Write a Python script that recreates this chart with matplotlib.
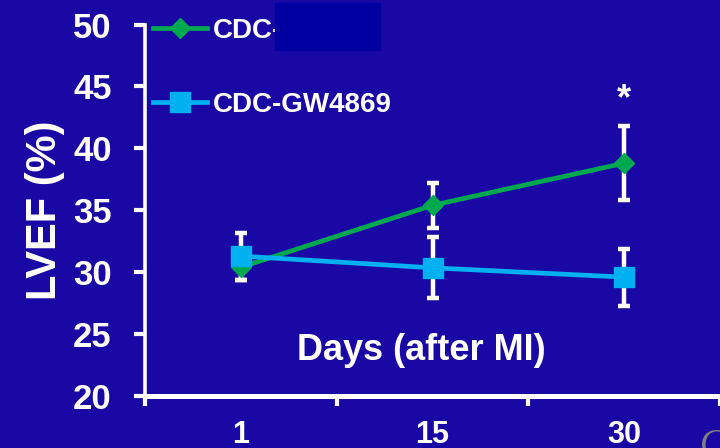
import matplotlib
matplotlib.use("Agg")
import matplotlib.pyplot as plt
import numpy as np

days = ["1", "15", "30"]
cdc_label = "CDC-"
cdc_mean = [30.4, 35.4, 38.8]
cdc_err = [1.0, 1.8, 3.0]
gw_label = "CDC-GW4869"
gw_mean = [31.3, 30.35, 29.6]
gw_err = [1.9, 2.45, 2.3]
yticks = [20, 25, 30, 35, 40, 45, 50]

bg = "#1a08a5"
green = "#00a850"
cyan = "#00b0f0"

plt.rcParams['font.family'] = ['Liberation Sans', 'DejaVu Sans']
plt.rcParams['font.weight'] = 'bold'

fig = plt.figure(figsize=(7.2, 4.48), dpi=100, facecolor=bg)
ax = fig.add_axes([145 / 720, 52 / 448, 575 / 720, 371.5 / 448])
ax.set_facecolor(bg)

x = np.arange(len(days)) + 0.5

# error bars under the lines
ax.errorbar(x, cdc_mean, yerr=cdc_err, fmt='none', ecolor='white',
            elinewidth=3.2, capsize=4.5, capthick=3.2, zorder=2)
ax.errorbar(x, gw_mean, yerr=gw_err, fmt='none', ecolor='white',
            elinewidth=3.2, capsize=4.5, capthick=3.2, zorder=2)

l1, = ax.plot(x, cdc_mean, color=green, lw=3.4, marker='D', ms=10,
              label=cdc_label, zorder=3)
l2, = ax.plot(x, gw_mean, color=cyan, lw=3.4, marker='s', ms=14,
              label=gw_label, zorder=4)

ax.text(x[2], 43.9, "*", color='white', fontsize=26, ha='center', va='center')

ax.set_xlim(0, 3)
ax.set_ylim(20, 50)
ax.set_yticks(yticks)
ax.set_xticks([0, 1, 2, 3])
ax.set_xticklabels([])
ax.set_xticks(x, minor=True)
ax.set_xticklabels(days, minor=True)
ax.tick_params(axis='x', which='minor', length=0, pad=17, labelsize=22,
               labelcolor='white')
ax.tick_params(axis='x', which='major', direction='out', length=7, width=3,
               color='white')
ax.tick_params(axis='y', direction='out', length=8, width=3, color='white',
               labelcolor='white', labelsize=25, pad=16)
for lab in ax.get_yticklabels() + ax.get_xticklabels(minor=True):
    lab.set_fontweight('bold')

for s in ['top', 'right']:
    ax.spines[s].set_visible(False)
ax.spines['left'].set_color('white')
ax.spines['left'].set_linewidth(2.6)
ax.spines['bottom'].set_color('white')
ax.spines['bottom'].set_linewidth(3.6)

ax.set_ylabel("LVEF (%)", color='white', fontsize=30, fontweight='bold',
              labelpad=6)
ax.text(421 / 720, 98 / 448, "Days (after MI)", transform=fig.transFigure,
        color='white', fontsize=26, fontweight='bold', ha='center', va='center')

lgd = ax.legend(handles=[l1, l2], loc='upper left',
                bbox_to_anchor=(153 / 720, 1 - 18 / 448),
                bbox_transform=fig.transFigure, frameon=False, borderpad=0,
                borderaxespad=0, fontsize=20, handlelength=1.95,
                handletextpad=0.2, labelspacing=1.72)
for t in lgd.get_texts():
    t.set_color('white')
    t.set_fontweight('bold')

# redacted box over the first label
fig.patches.append(plt.Rectangle((275 / 720, 1 - 50 / 448), 105 / 720, 47 / 448,
                                 transform=fig.transFigure, color="#0000a0",
                                 zorder=10))

fig.text(700 / 720, -6 / 448, "C", color='#808080', fontsize=26,
         style='italic', fontweight='normal', family='Liberation Serif',
         ha='left', va='baseline')

fig.savefig("out.png", dpi=100, facecolor=fig.get_facecolor())
